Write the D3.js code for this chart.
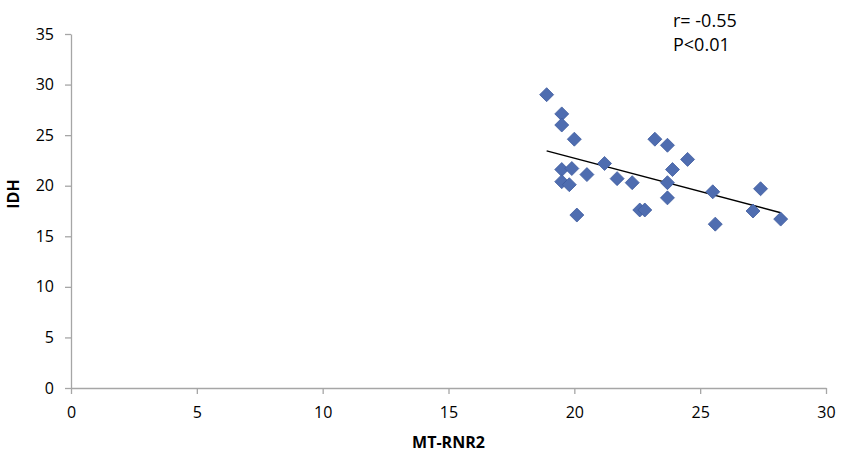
<!DOCTYPE html>
<html>
<head>
	<meta charset="utf-8">
	<title>IDH vs MT-RNR2</title>
	<script type="text/javascript" src="https://cdn.jsdelivr.net/npm/d3@7"></script>
	<style>
		body { margin: 0; background: #fff; }
		text { font-family: "Open Sans", sans-serif; fill: #000; }
	</style>
</head>
<body>
<div id="chart"></div>
<script type="text/javascript">
// valeurs
const mtRnr2 = [18.9, 19.5, 19.5, 20.0, 19.5, 19.9, 20.5, 21.2, 19.5, 19.8, 20.1, 21.7, 22.3, 22.6, 22.8,
                23.2, 23.7, 23.9, 23.7, 23.7, 24.5, 25.5, 25.6, 27.1, 27.4, 28.2];
const idh    = [29.0, 27.1, 26.0, 24.6, 21.6, 21.7, 21.1, 22.2, 20.4, 20.1, 17.1, 20.7, 20.3, 17.6, 17.6,
                24.6, 24.0, 21.6, 20.3, 18.8, 22.6, 19.4, 16.2, 17.5, 19.7, 16.7];
const xTicks = [0, 5, 10, 15, 20, 25, 30];
const yTicks = [0, 5, 10, 15, 20, 25, 30, 35];
const statLabels = ["r= -0.55", "P<0.01"];

const data = mtRnr2.map(function(d, i) { return {x: d, y: idh[i]}; });

const margin = {top: 34, right: 16, bottom: 69, left: 71},
    width = 842 - margin.left - margin.right,
    height = 457 - margin.top - margin.bottom;

const x = d3.scaleLinear().domain([0, 30]).range([0, width]);
const y = d3.scaleLinear().domain([0, 35]).range([height, 0]);

const svg = d3.select("#chart").append("svg")
    .attr("width", 842)
    .attr("height", 457)
    .append("g")
    .attr("transform", "translate(" + margin.left + "," + margin.top + ")");

const axisColor = "#a6a6a6";

const xAxis = svg.append("g")
    .attr("transform", "translate(0," + height + ")")
    .call(d3.axisBottom(x).tickValues(xTicks).tickSize(6).tickSizeOuter(0).tickPadding(13));
const yAxis = svg.append("g")
    .call(d3.axisLeft(y).tickValues(yTicks).tickSize(6).tickSizeOuter(0).tickPadding(11));

[xAxis, yAxis].forEach(function(a) {
    a.select(".domain").attr("stroke", axisColor).attr("stroke-width", 1.3);
    a.selectAll(".tick line").attr("stroke", axisColor).attr("stroke-width", 1.3);
    a.selectAll(".tick text").style("font-size", "16px").attr("fill", "#000");
});

// droite de régression (moindres carrés)
const mx = d3.mean(data, function(d) { return d.x; }),
    my = d3.mean(data, function(d) { return d.y; });
const slope = d3.sum(data, function(d) { return (d.x - mx) * (d.y - my); }) /
    d3.sum(data, function(d) { return (d.x - mx) * (d.x - mx); });
const intercept = my - slope * mx;
const xr = d3.extent(data, function(d) { return d.x; });

svg.append("line")
    .attr("x1", x(xr[0])).attr("y1", y(intercept + slope * xr[0]))
    .attr("x2", x(xr[1])).attr("y2", y(intercept + slope * xr[1]))
    .attr("stroke", "#000")
    .attr("stroke-width", 1.5);

svg.selectAll(".pt").data(data).enter()
    .append("path")
    .attr("class", "pt")
    .attr("d", "M0,-7L7,0L0,7L-7,0Z")
    .attr("transform", function(d) { return "translate(" + x(d.x) + "," + y(d.y) + ")"; })
    .attr("fill", "#4f6db0")
    .attr("stroke", "#3f5c9e")
    .attr("stroke-width", 0.8);

svg.selectAll(".stat").data(statLabels).enter()
    .append("text")
    .attr("class", "stat")
    .attr("x", 602)
    .attr("y", function(d, i) { return -7 + i * 24; })
    .style("font-size", "18px")
    .text(function(d) { return d; });

svg.append("text")
    .attr("x", width / 2)
    .attr("y", height + 60)
    .attr("text-anchor", "middle")
    .style("font-size", "16px")
    .style("font-weight", "bold")
    .text("MT-RNR2");

svg.append("text")
    .attr("transform", "rotate(-90)")
    .attr("x", -height / 2 + 17)
    .attr("y", -52)
    .attr("text-anchor", "middle")
    .style("font-size", "16px")
    .style("font-weight", "bold")
    .text("IDH");
</script>
</body>
</html>
